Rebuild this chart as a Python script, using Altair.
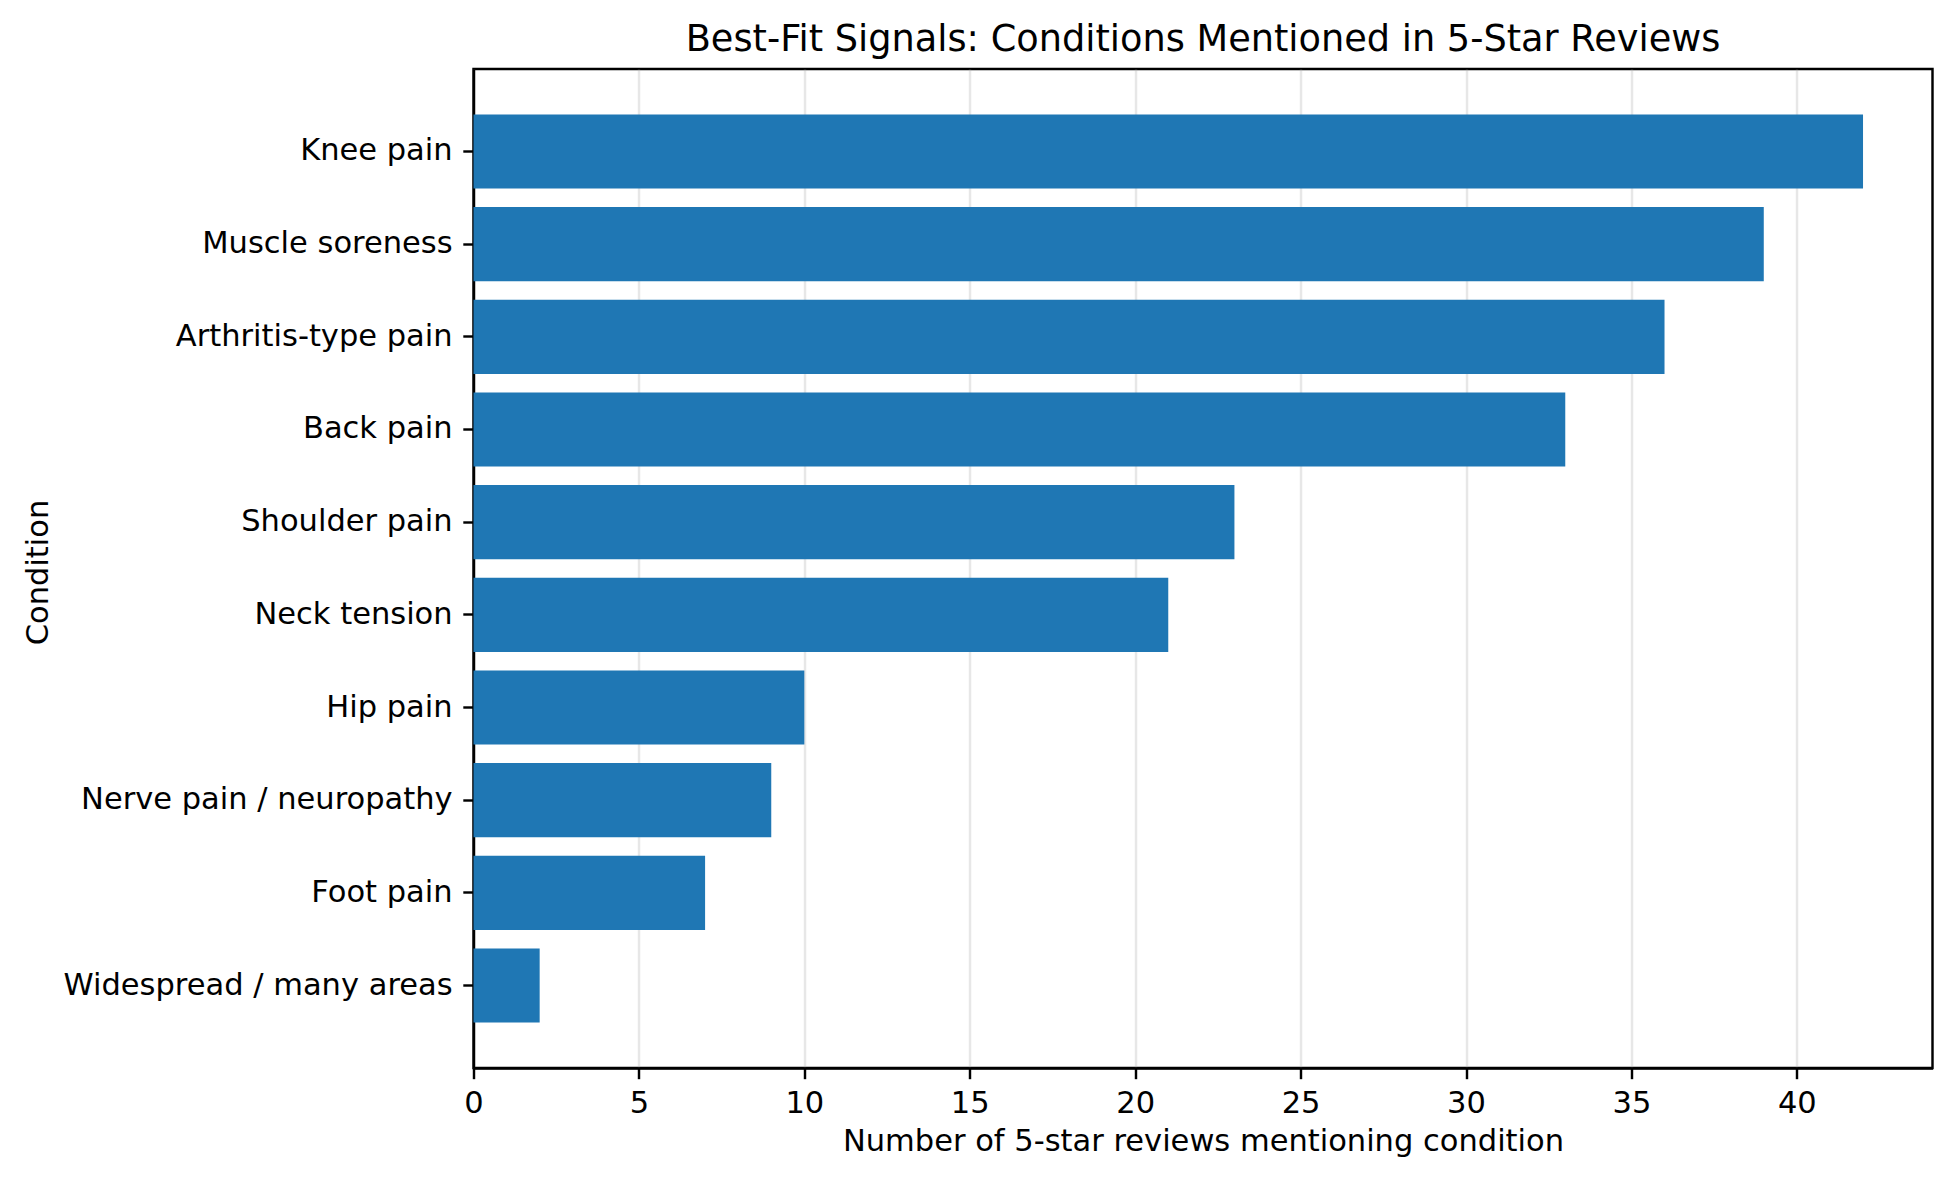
import altair as alt
import pandas as pd

conditions = [
    "Knee pain",
    "Muscle soreness",
    "Arthritis-type pain",
    "Back pain",
    "Shoulder pain",
    "Neck tension",
    "Hip pain",
    "Nerve pain / neuropathy",
    "Foot pain",
    "Widespread / many areas",
]
counts = [42, 39, 36, 33, 23, 21, 10, 9, 7, 2]
x_ticks = [0, 5, 10, 15, 20, 25, 30, 35, 40]

df = pd.DataFrame({"Condition": conditions, "Count": counts})

FONT = "DejaVu Sans"
FS = 30.5
LW = 2.44

chart = (
    alt.Chart(df)
    .mark_bar(color="#1f77b4")
    .encode(
        x=alt.X(
            "Count:Q",
            title="Number of 5-star reviews mentioning condition",
            scale=alt.Scale(domain=[0, 44.1], nice=False, zero=True),
            axis=alt.Axis(values=x_ticks, grid=True, format="d",
                          labelPadding=9.5, titlePadding=8),
        ),
        y=alt.Y(
            "Condition:N",
            sort=None,
            title="Condition",
            scale=alt.Scale(paddingInner=0.2, paddingOuter=0.49),
            axis=alt.Axis(grid=False, labelLimit=1000,
                          titleX=-426, titleY=503,
                          titleBaseline="alphabetic", titleAlign="center",
                          titleAngle=270),
        ),
    )
    .properties(
        width=1459,
        height=999,
        title=alt.TitleParams(
            "Best-Fit Signals: Conditions Mentioned in 5-Star Reviews",
            font=FONT,
            fontSize=36.7,
            fontWeight="normal",
            color="black",
            anchor="middle",
            frame="group",
            offset=10,
        ),
        padding={"left": 15.5, "top": 14, "right": 10, "bottom": 5},
    )
    .configure_view(stroke="black", strokeWidth=LW)
    .configure_axis(
        labelFont=FONT,
        labelFontSize=FS,
        labelColor="black",
        labelLimit=1000,
        titleFont=FONT,
        titleFontSize=FS,
        titleFontWeight="normal",
        titleColor="black",
        domainColor="black",
        domainWidth=LW,
        tickColor="black",
        tickWidth=LW,
        tickSize=10.7,
        labelPadding=10.7,
        titlePadding=12.2,
        gridColor="#b0b0b0",
        gridOpacity=0.3,
        gridWidth=LW,
        zindex=1,
        labelFlush=False,
    )
)

chart.save("out.html", embed_options={"renderer": "svg", "actions": False})
